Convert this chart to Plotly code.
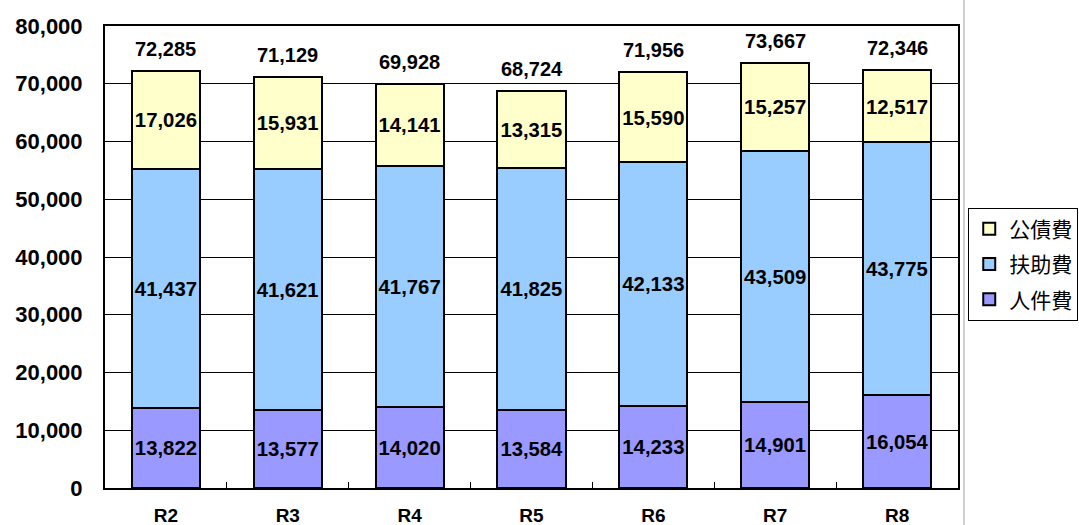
import plotly.graph_objects as go

categories = ["R2", "R3", "R4", "R5", "R6", "R7", "R8"]
jinkenhi = [13822, 13577, 14020, 13584, 14233, 14901, 16054]
fujohi = [41437, 41621, 41767, 41825, 42133, 43509, 43775]
kosaihi = [17026, 15931, 14141, 13315, 15590, 15257, 12517]
series_names = ["人件費", "扶助費", "公債費"]
y_ticks = [0, 10000, 20000, 30000, 40000, 50000, 60000, 70000, 80000]

totals = [a + b + c for a, b, c in zip(jinkenhi, fujohi, kosaihi)]

num_font = dict(family="Liberation Sans, Arial, sans-serif", size=21, color="black")
colors = ["#9999FF", "#99CCFF", "#FFFFCC"]
ranks = [3, 2, 1]

fig = go.Figure()
for name, vals, col, rk in zip(series_names, [jinkenhi, fujohi, kosaihi], colors, ranks):
    fig.add_trace(go.Bar(
        x=categories, y=vals, name=name, legendgroup=name, legendrank=rk,
        marker=dict(color=col, line=dict(color="black", width=2)),
        text=[f"<b>{v:,}</b>" for v in vals], textposition="inside",
        insidetextanchor="middle", textangle=0,
        textfont=num_font, width=0.56,
    ))

for cat, t in zip(categories, totals):
    fig.add_annotation(
        x=cat, y=t, text=f"<b>{t:,}</b>", showarrow=False,
        yanchor="bottom", yshift=9,
        font=dict(family="Liberation Sans, Arial, sans-serif", size=20, color="black"),
    )

fig.update_layout(
    width=1079, height=525,
    barmode="stack",
    plot_bgcolor="white", paper_bgcolor="white",
    margin=dict(l=105, r=121, t=26, b=37, autoexpand=False),
    showlegend=True,
    legend=dict(
        x=1.012, y=0.607, xanchor="left", yanchor="top",
        traceorder="grouped", tracegroupgap=5,
        bordercolor="black", borderwidth=1,
        font=dict(family="Noto Sans CJK JP", size=21, color="black"),
        itemwidth=30,
    ),
    uniformtext=dict(mode=False),
)
fig.update_xaxes(
    type="category", automargin=False,
    showline=True, linecolor="black", linewidth=2, mirror=True,
    ticks="inside", ticklen=6, tickcolor="black", tickson="boundaries",
    tickfont=dict(family="Liberation Sans, Arial, sans-serif", size=19, color="black"),
    tickprefix="<b>", ticksuffix="</b>",
    ticklabelstandoff=9,
    showgrid=False,
)
fig.update_yaxes(
    range=[0, 80000], tickvals=y_ticks, automargin=False,
    ticktext=[f"<b>{v:,}</b>" for v in y_ticks],
    showline=True, linecolor="black", linewidth=2, mirror=True,
    showgrid=True, gridcolor="black", gridwidth=1,
    ticks="", ticklabelstandoff=16,
    tickfont=dict(family="Liberation Sans, Arial, sans-serif", size=22, color="black"),
    zeroline=False,
)
fig.add_shape(type="line", xref="paper", yref="paper", x0=1.007, x1=1.007, y0=-0.08, y1=1.06,
              line=dict(color="#A0A0A0", width=1))

fig.write_html("out.html", config={"displayModeBar": False},
               post_script="document.body.style.margin='0';")
